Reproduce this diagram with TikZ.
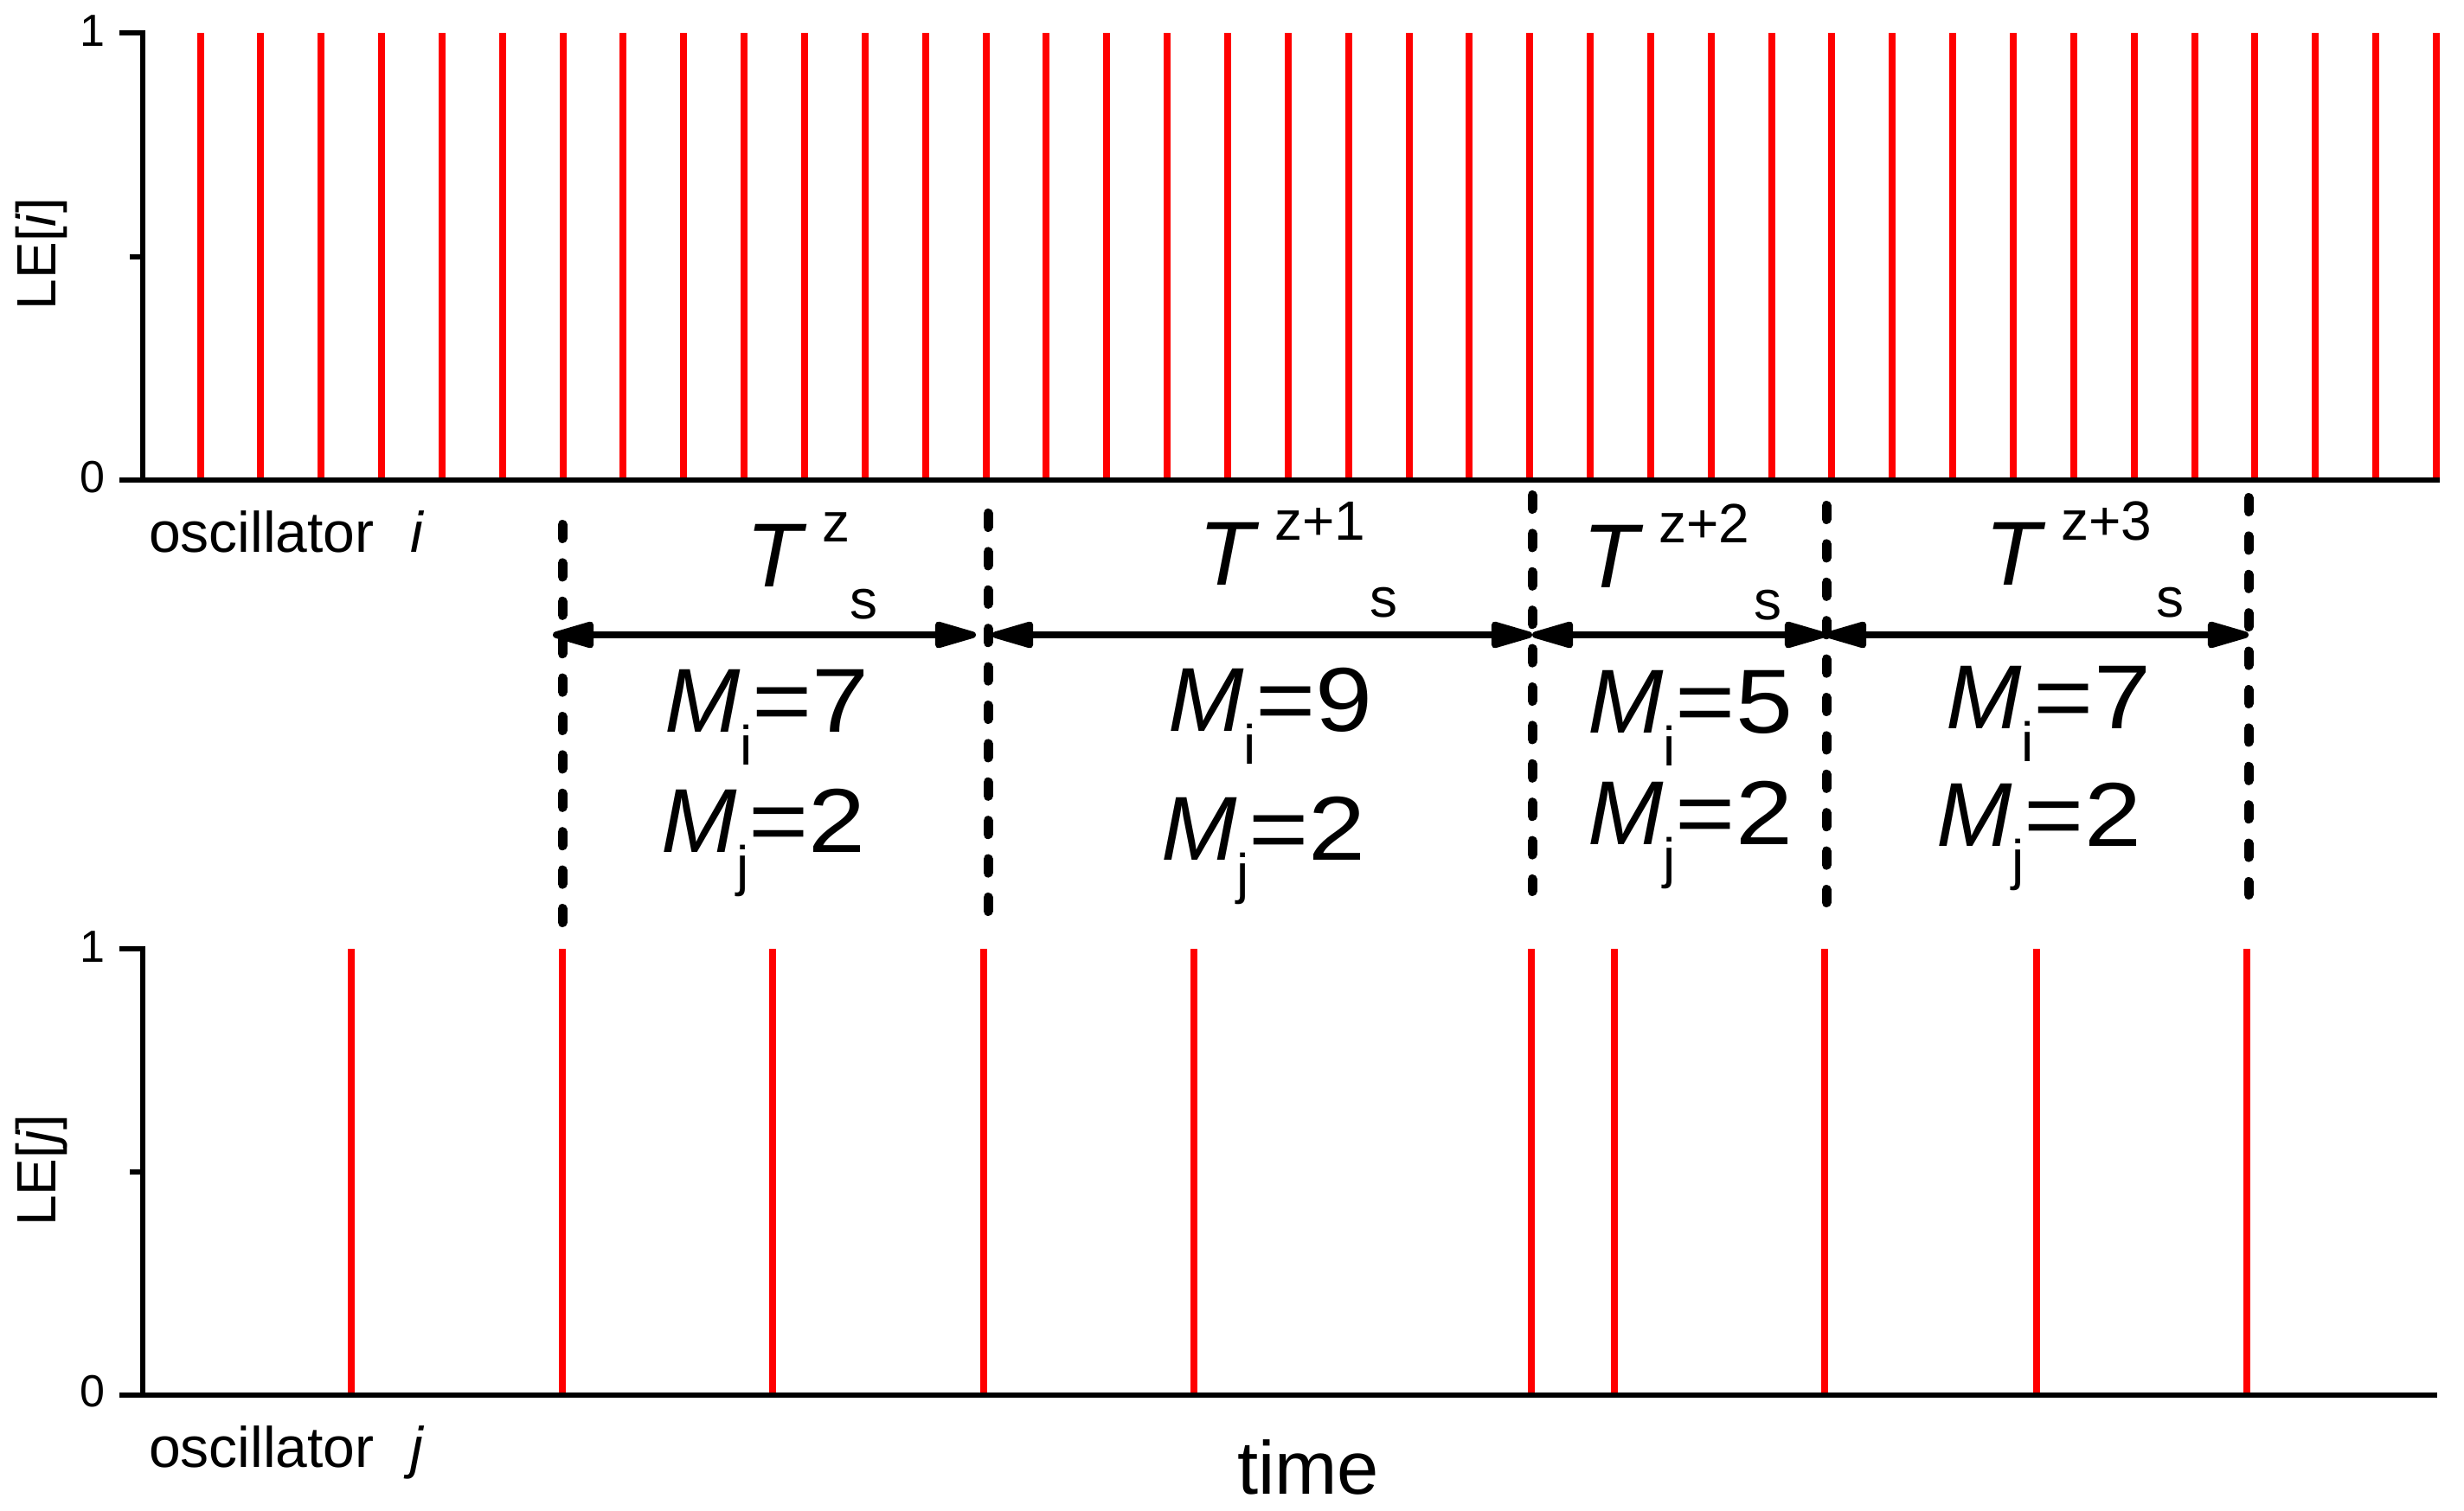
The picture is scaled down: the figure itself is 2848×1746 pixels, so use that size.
\documentclass[tikz,border=0pt]{standalone}
\usepackage{fontspec}
\setmainfont{Liberation Sans}
\usetikzlibrary{arrows.meta}
\newcommand\subf{\fontsize{16}{16}\selectfont}
\newcommand\eqv[1]{\scalebox{1.13}[1]{=#1}}
\newcommand\Tlab[2]{{\itshape T}\hspace{6pt}\raisebox{13pt}{\subf #1}\hspace{#2}\raisebox{-9.25pt}{\subf s}}
\newcommand\Mlab[2]{{\itshape M}\raisebox{-9.5pt}{\subf #1}\eqv{#2}}
\begin{document}
\begin{tikzpicture}[x=0.25pt,y=-0.25pt,
  axisline/.style={line width=1.5pt, line join=miter},
  spike/.style={draw=red, line width=2pt},
  sepline/.style={line width=2.75pt, line cap=round, dash pattern=on 4pt off 7.1pt},
  spanarrow/.style={line width=1.9pt, {Triangle[length=14.5pt,width=7.75pt,round]}-{Triangle[length=14.5pt,width=7.75pt,round]}},
  lbl/.style={inner sep=0pt, outer sep=0pt, anchor=base west},
  bigf/.style={font=\fontsize{26.25}{30}\selectfont},
  tickf/.style={inner sep=0pt, anchor=base, font=\fontsize{13}{14}\selectfont},
  lef/.style={inner sep=0pt, anchor=base, rotate=90, font=\fontsize{16}{18}\selectfont},
  oscf/.style={font=\fontsize{16.5}{18}\selectfont},
  timef/.style={font=\fontsize{21.7}{24}\selectfont}]
\useasboundingbox (0,0) rectangle (2848,1746);

% ---------- top panel (oscillator i) ----------
\foreach \k in {0,...,37}
  \draw[spike] ({231.5+69.85*\k},38) -- ({231.5+69.85*\k},555);
\draw[axisline] (138,38) -- (165,38) -- (165,555);
\draw[axisline] (150,296.5) -- (165,296.5);
\draw[axisline] (138,555) -- (2820,555);
\node[tickf] (ti1) at (107,53) {1};
\node[tickf] (ti0) at (107,569) {0};
\node[lef] (lei) at (65,293.5) {LE[\textit{i}]};
\node[lbl,oscf] (osci) at (172,638) {oscillator\hspace{10.5pt}\textit{i}};

% ---------- bottom panel (oscillator j) ----------
\foreach \xx in {406,650,893,1137,1380,1770,1866,2109,2354,2597}
  \draw[spike] (\xx,1097) -- (\xx,1613);
\draw[axisline] (138,1097) -- (165,1097) -- (165,1613);
\draw[axisline] (150,1355) -- (165,1355);
\draw[axisline] (138,1613) -- (2817,1613);
\node[tickf] (tj1) at (107,1112) {1};
\node[tickf] (tj0) at (107,1626) {0};
\node[lef] (lej) at (65,1353) {LE[\textit{j}]};
\node[lbl,oscf] (oscj) at (172,1696) {oscillator\hspace{10.5pt}\textit{j}};
\node[lbl,timef] (time) at (1430,1727) {time};

% ---------- separators ----------
\coordinate (d1t) at (650,606.5);  \coordinate (d1b) at (650,1066.5);
\coordinate (d2t) at (1142,593.5); \coordinate (d2b) at (1142,1054.5);
\coordinate (d3t) at (1771,572.5); \coordinate (d3b) at (1771,1030.5);
\coordinate (d4t) at (2111,584.5); \coordinate (d4b) at (2111,1043.5);
\coordinate (d5t) at (2599,575.5); \coordinate (d5b) at (2599,1034.5);
\draw[sepline] (d1t) -- (d1b);
\draw[sepline] (d2t) -- (d2b);
\draw[sepline] (d3t) -- (d3b);
\draw[sepline] (d4t) -- (d4b);
\draw[sepline] (d5t) -- (d5b);

% ---------- period arrows ----------
\coordinate (a1l) at (639,734);  \coordinate (a1r) at (1128,734);
\coordinate (a2l) at (1147,734); \coordinate (a2r) at (1771,734);
\coordinate (a3l) at (1771,734); \coordinate (a3r) at (2110,734);
\coordinate (a4l) at (2110,734); \coordinate (a4r) at (2599,734);
\draw[spanarrow] (a1l) -- (a1r);
\draw[spanarrow] (a2l) -- (a2r);
\draw[spanarrow] (a3l) -- (a3r);
\draw[spanarrow] (a4l) -- (a4r);

% ---------- labels ----------
\node[lbl,bigf] (T1) at (862,678)  {\Tlab{z}{0pt}};
\node[lbl,bigf] (T2) at (1385,676) {\Tlab{z+1}{1.25pt}};
\node[lbl,bigf] (T3) at (1829,679) {\Tlab{z+2}{1.25pt}};
\node[lbl,bigf] (T4) at (2294,676) {\Tlab{z+3}{1.25pt}};

\node[lbl,bigf] (Mi1) at (768,846)  {\Mlab{i}{7}};
\node[lbl,bigf] (Mj1) at (764,985)  {\Mlab{j}{2}};
\node[lbl,bigf] (Mi2) at (1350,845) {\Mlab{i}{9}};
\node[lbl,bigf] (Mj2) at (1342,994) {\Mlab{j}{2}};
\node[lbl,bigf] (Mi3) at (1835,847) {\Mlab{i}{5}};
\node[lbl,bigf] (Mj3) at (1835,976) {\Mlab{j}{2}};
\node[lbl,bigf] (Mi4) at (2249,842) {\Mlab{i}{7}};
\node[lbl,bigf] (Mj4) at (2238,978) {\Mlab{j}{2}};
\end{tikzpicture}
\end{document}
